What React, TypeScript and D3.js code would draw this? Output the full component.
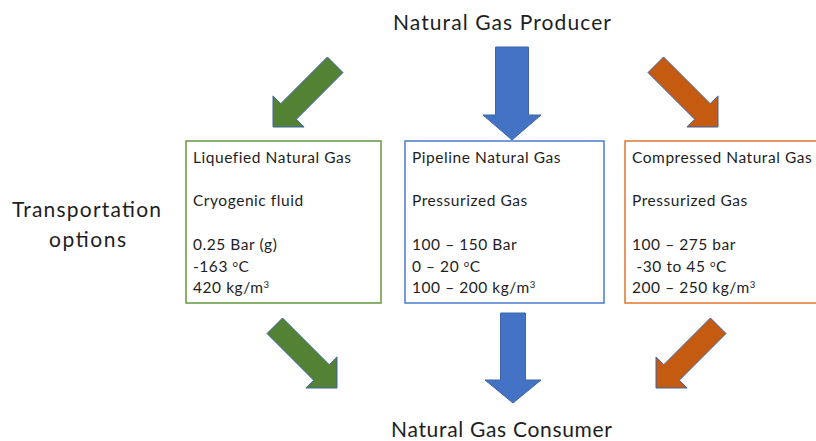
import React from "react";
import * as d3 from "d3";

// ---------- data ----------
const topTitle = "Natural Gas Producer";
const bottomTitle = "Natural Gas Consumer";
const sideLabel = ["Transportation", "options"];

const optionNames = ["Liquefied Natural Gas", "Pipeline Natural Gas", "Compressed Natural Gas"];
const optionStates = ["Cryogenic fluid", "Pressurized Gas", "Pressurized Gas"];
const optionPressures = ["0.25 Bar (g)", "100 \u2013 150 Bar", "100 \u2013 275 bar"];
const optionTemps = ["-163 ", "0 \u2013 20 ", " -30 to 45 "];
const optionDensities = ["420 kg/m", "100 \u2013 200 kg/m", "200 \u2013 250 kg/m"];

// ---------- styles / layout ----------
const W = 816;
const H = 441;
const FONT = "Lato, 'Open Sans', sans-serif";
const TEXT = "#1e1e1e";
const boxStroke = ["#62993F", "#4A7BD0", "#E0762E"];
const arrowFill = ["#548235", "#4472C4", "#C55A11"];
const arrowStroke = "#3D64A8";

const boxLeft = [186, 405, 625];
const boxWidth = [195, 199, 200];
const boxTop = 141;
const boxBottom = 303;
const lineH = 21.7;
const firstBaseline = 163;

type Arrow = { tx: number; ty: number; ux: number; uy: number; L: number; Hh: number; HW: number; SW: number; fill: string };

const s = Math.SQRT1_2;
const arrows: Arrow[] = [
  { tx: 273, ty: 127, ux: -s, uy: s, L: 88, Hh: 22, HW: 44, SW: 22, fill: arrowFill[0] },
  { tx: 512, ty: 140, ux: 0, uy: 1, L: 93, Hh: 25, HW: 58, SW: 33, fill: arrowFill[1] },
  { tx: 718, ty: 127, ux: s, uy: s, L: 88, Hh: 22, HW: 44, SW: 22, fill: arrowFill[2] },
  { tx: 337, ty: 388, ux: s, uy: s, L: 88, Hh: 22, HW: 44, SW: 22, fill: arrowFill[0] },
  { tx: 513, ty: 403, ux: 0, uy: 1, L: 90, Hh: 23, HW: 56, SW: 25, fill: arrowFill[1] },
  { tx: 656, ty: 388, ux: -s, uy: s, L: 88, Hh: 22, HW: 44, SW: 22, fill: arrowFill[2] },
];

function arrowPath(a: Arrow): string {
  const px = -a.uy, py = a.ux;
  const bx = a.tx - a.ux * a.Hh, by = a.ty - a.uy * a.Hh;
  const ex = a.tx - a.ux * a.L, ey = a.ty - a.uy * a.L;
  const pts: [number, number][] = [
    [ex + px * a.SW / 2, ey + py * a.SW / 2],
    [bx + px * a.SW / 2, by + py * a.SW / 2],
    [bx + px * a.HW / 2, by + py * a.HW / 2],
    [a.tx, a.ty],
    [bx - px * a.HW / 2, by - py * a.HW / 2],
    [bx - px * a.SW / 2, by - py * a.SW / 2],
    [ex - px * a.SW / 2, ey - py * a.SW / 2],
  ];
  const line = d3.line<[number, number]>().curve(d3.curveLinearClosed);
  return line(pts) || "";
}

const lineY = d3.scaleLinear().domain([0, 1]).range([firstBaseline, firstBaseline + lineH]);

export default function App() {
  const boxFs = 15.5;
  const ls = 0.55;
  return (
    <svg
      width={W}
      height={H}
      viewBox={`0 0 ${W} ${H}`}
      style={{ position: "absolute", left: 0, top: 0, background: "#ffffff" }}
      fontFamily={FONT}
    >
      <rect x={0} y={0} width={W} height={H} fill="#ffffff" />
      <text x={393} y={30} fontSize={21} fill={TEXT} textLength={218} lengthAdjust="spacing">{topTitle}</text>
      <text x={391} y={437} fontSize={21} fill={TEXT} textLength={221} lengthAdjust="spacing">{bottomTitle}</text>
      <text x={12} y={217} fontSize={21} fill={TEXT} textLength={149} lengthAdjust="spacing">{sideLabel[0]}</text>
      <text x={49} y={247} fontSize={21} fill={TEXT} textLength={77} lengthAdjust="spacing">{sideLabel[1]}</text>
      {arrows.map((a, i) => (
        <path key={i} d={arrowPath(a)} fill={a.fill} stroke={arrowStroke} strokeWidth={1} strokeLinejoin="miter" />
      ))}
      {optionNames.map((name, i) => {
        const x = boxLeft[i] + 7;
        return (
          <g key={i} letterSpacing={ls}>
            <rect x={boxLeft[i]} y={boxTop} width={boxWidth[i]} height={boxBottom - boxTop} fill="#ffffff" stroke={boxStroke[i]} strokeWidth={1.5} />
            <text x={x} y={lineY(0)} fontSize={boxFs} fill={TEXT}>{name}</text>
            <text x={x} y={lineY(2)} fontSize={boxFs} fill={TEXT}>{optionStates[i]}</text>
            <text x={x} y={lineY(4)} fontSize={boxFs} fill={TEXT} style={{ whiteSpace: "pre" }}>{optionPressures[i]}</text>
            <text x={x} y={lineY(5)} fontSize={boxFs} fill={TEXT} style={{ whiteSpace: "pre" }}>
              {optionTemps[i]}
              <tspan fontSize={boxFs * 0.62} dy={-5}>o</tspan>
              <tspan dy={5}>C</tspan>
            </text>
            <text x={x} y={lineY(6)} fontSize={boxFs} fill={TEXT}>
              {optionDensities[i]}
              <tspan fontSize={boxFs * 0.62} dy={-5}>3</tspan>
            </text>
          </g>
        );
      })}
    </svg>
  );
}
